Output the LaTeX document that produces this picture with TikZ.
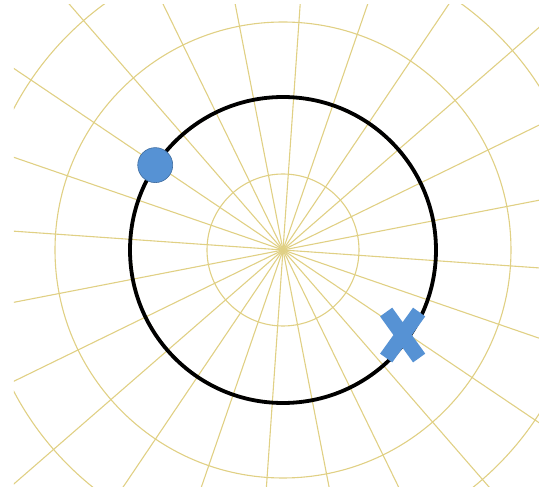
\documentclass[tikz,border=0pt]{standalone}
\definecolor{gridgold}{RGB}{224, 208, 132}
\definecolor{markblue}{RGB}{86, 146, 212}
\usepackage{tikz}
\usetikzlibrary{shapes.misc, positioning, calc}
\tikzset{
  gridline/.style={draw=gridgold, line width=1.1pt},
  orbit/.style={draw=black, line width=3.8pt},
  dotmark/.style={circle, fill=markblue, draw=markblue!75!black, line width=0.6pt, minimum size=35pt, inner sep=0pt},
  xmark/.style={cross out, draw=markblue, line width=15pt, minimum width=33pt, minimum height=46pt, inner sep=0pt, outer sep=0pt},
}

\begin{document}
\begin{tikzpicture}[x=1pt, y=1pt]
  \useasboundingbox (-283,-245) rectangle (256,250);
  \coordinate (o) at (0,0);
  \begin{scope}
    \clip (-269,-237) rectangle (256,245);
    \foreach \a in {0,15,...,345} \draw[gridline] (o) -- (\a-4:420pt);
    \foreach \r in {76,152,228,304} \draw[gridline] (o) circle (\r pt);
  \end{scope}
  \draw[orbit] (o) circle (153pt);
  \node[dotmark] (dot) at (146.4:153.4pt) {};
  \node[xmark] (cross) at (-35.4:146.8pt) {};
\end{tikzpicture}
\end{document}
